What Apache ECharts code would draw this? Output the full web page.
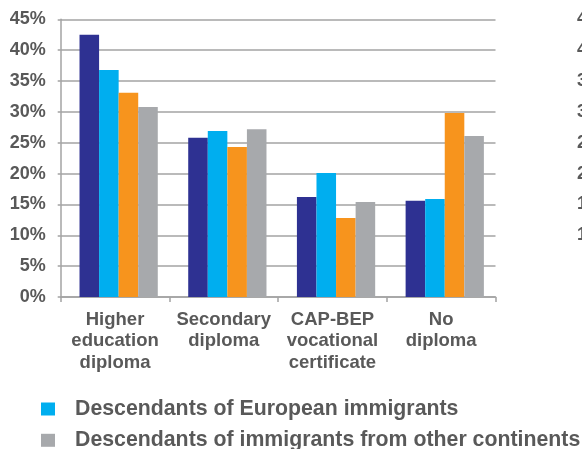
<!DOCTYPE html>
<html>
<head>
<meta charset="utf-8">
<script src="https://cdn.jsdelivr.net/npm/echarts@6/dist/echarts.min.js"></script>
<style>html,body{margin:0;padding:0;background:#fff}#c{width:582px;height:449px}</style>
</head>
<body>
<div id="c"></div>
<script>
const categories = ['Higher\neducation\ndiploma', 'Secondary\ndiploma', 'CAP-BEP\nvocational\ncertificate', 'No\ndiploma'];
const seriesNames = ['Population without immigrant background', 'Descendants of European immigrants', 'Immigrants', 'Descendants of immigrants from other continents'];
const seriesColors = ['#2E3192', '#00AEEF', '#F7941D', '#A7A9AC'];
const valuesNoBackground = [42.5, 25.8, 16.2, 15.6];
const valuesEuropean = [36.8, 26.9, 20.1, 15.9];
const valuesImmigrants = [33.1, 24.3, 12.8, 29.8];
const valuesOtherContinents = [30.8, 27.2, 15.4, 26.1];
const legendItems = ['Descendants of European immigrants', 'Descendants of immigrants from other continents'];

const allValues = [valuesNoBackground, valuesEuropean, valuesImmigrants, valuesOtherContinents];
const font = 'Arial, "Liberation Sans", sans-serif';
const textColor = '#595959';
const lineColor = '#a3a3a3';

function legendAt(name, top) {
  return {
    data: [name],
    orient: 'horizontal',
    left: 41,
    top: top,
    padding: 0,
    itemWidth: 14,
    itemHeight: 13,
    icon: 'rect',
    textStyle: {fontFamily: font, fontWeight: 'bold', fontSize: 21.3, lineHeight: 24, color: textColor, padding: [0, 0, 6, 15]},
    selectedMode: false
  };
}

const chart = echarts.init(document.getElementById('c'), null, {renderer: 'canvas'});
chart.setOption({
  animation: false,
  backgroundColor: '#ffffff',
  grid: [
    {left: 60.7, right: 86.5, top: 19.3, bottom: 152, containLabel: false, outerBoundsMode: 'none'},
    {left: 628, width: 200, top: 19.3, bottom: 152, containLabel: false, outerBoundsMode: 'none'},
    {left: 64.3, right: 82.9, top: 19.3, bottom: 152, containLabel: false, outerBoundsMode: 'none'}
  ],
  legend: [legendAt(legendItems[0], 394), legendAt(legendItems[1], 425.3)],
  xAxis: [
    {
      type: 'category', gridIndex: 0, data: categories,
      axisLine: {show: true, lineStyle: {color: lineColor, width: 1.5}},
      axisTick: {show: true, length: 5, lineStyle: {color: lineColor, width: 1.5}},
      axisLabel: {interval: 0, margin: 12, fontFamily: font, fontWeight: 'bold', fontSize: 18.5, lineHeight: 21.5, color: textColor}
    },
    {type: 'category', gridIndex: 1, data: categories, show: false},
    {type: 'category', gridIndex: 2, data: categories, show: false}
  ],
  yAxis: [
    {
      type: 'value', gridIndex: 0, min: 0, max: 45, interval: 5,
      axisLine: {show: true, lineStyle: {color: lineColor, width: 1.5}},
      axisTick: {show: true, length: 3, lineStyle: {color: lineColor, width: 1.5}},
      splitLine: {show: true, lineStyle: {color: lineColor, width: 1.5}},
      axisLabel: {formatter: '{value}%', margin: 15, fontFamily: font, fontWeight: 'bold', fontSize: 18, color: textColor}
    },
    {
      type: 'value', gridIndex: 1, min: 0, max: 45, interval: 5,
      axisLine: {show: false}, axisTick: {show: false}, splitLine: {show: false},
      axisLabel: {formatter: '{value}%', margin: 15, fontFamily: font, fontWeight: 'bold', fontSize: 18, color: textColor}
    },
    {type: 'value', gridIndex: 2, min: 0, max: 45, interval: 5, show: false, splitLine: {show: false}}
  ],
  series: seriesNames.map((name, i) => ({
    name: name,
    type: 'bar',
    xAxisIndex: 2, yAxisIndex: 2,
    data: allValues[i],
    itemStyle: {color: seriesColors[i]},
    barGap: '0%',
    barCategoryGap: '28%'
  }))
});
</script>
</body>
</html>
